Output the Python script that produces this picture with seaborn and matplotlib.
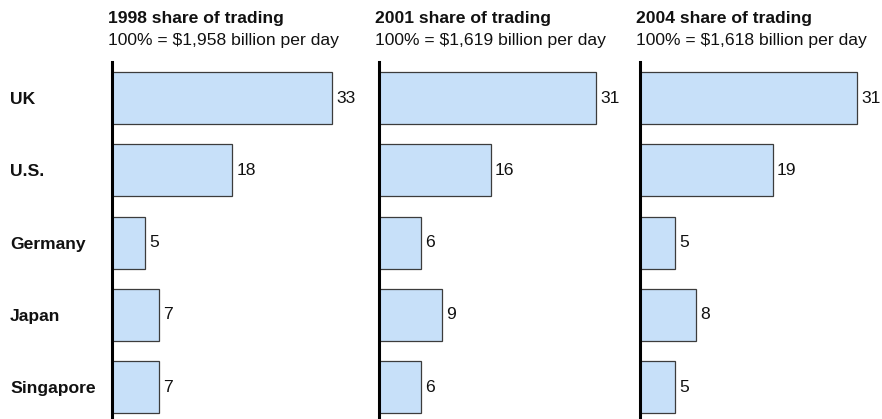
import matplotlib
matplotlib.use("Agg")
import matplotlib.pyplot as plt
import seaborn as sns
import pandas as pd

# Share of global FX trading by centre (%)
regions = ["UK", "U.S.", "Germany", "Japan", "Singapore"]
years = ["1998", "2001", "2004"]
daily_totals = ["$1,958", "$1,619", "$1,618"]
share_1998 = [33, 18, 5, 7, 7]
share_2001 = [31, 16, 6, 9, 6]
share_2004 = [31, 19, 5, 8, 5]
shares = [share_1998, share_2001, share_2004]

sns.set_theme(style="white")
plt.rcParams["font.family"] = ["Liberation Sans", "DejaVu Sans"]

W, H = 882, 419
fig = plt.figure(figsize=(W / 100, H / 100), dpi=100)

axis_x = [112, 379, 640]   # pixel position of each panel's baseline
x_max = [36.0, 34.3, 34.3]  # per-panel horizontal extent
panel_w = 240
top_px = 62
fs = 12.6

bar_color = "#c7e0f9"
edge_color = "#3c3c3c"
text_color = "#111111"

for i, (yr, tot, vals) in enumerate(zip(years, daily_totals, shares)):
    ax = fig.add_axes([axis_x[i] / W, 0, panel_w / W, 1 - top_px / H])
    df = pd.DataFrame({"region": regions, "share": vals})
    sns.barplot(data=df, x="share", y="region", orient="h", ax=ax,
                color=bar_color, edgecolor=edge_color, linewidth=0.9,
                width=0.72, saturation=1)
    for c in ax.containers:
        ax.bar_label(c, padding=3, fontsize=fs, color=text_color)
    ax.set_xlim(0, x_max[i])
    ax.set_ylim(4.44, -0.5)
    ax.set_xlabel("")
    ax.set_ylabel("")
    ax.set_xticks([])
    for s in ["top", "right", "bottom"]:
        ax.spines[s].set_visible(False)
    ax.spines["left"].set_color("black")
    ax.spines["left"].set_linewidth(2.2)
    ax.patch.set_alpha(0)
    if i == 0:
        ax.tick_params(axis="y", length=0, pad=(axis_x[0] - 10) * 0.72)
        for lbl in ax.get_yticklabels():
            lbl.set_horizontalalignment("left")
            lbl.set_fontweight("bold")
            lbl.set_fontsize(fs)
            lbl.set_color(text_color)
    else:
        ax.set_yticks([])

    tx = (axis_x[i] - 4) / W
    fig.text(tx, 1 - 18 / H, f"{yr} share of trading", fontsize=fs,
             fontweight="bold", color=text_color, va="center", ha="left")
    fig.text(tx, 1 - 40 / H, f"100% = {tot} billion per day", fontsize=fs,
             color=text_color, va="center", ha="left")

fig.savefig("out.png", dpi=100)
